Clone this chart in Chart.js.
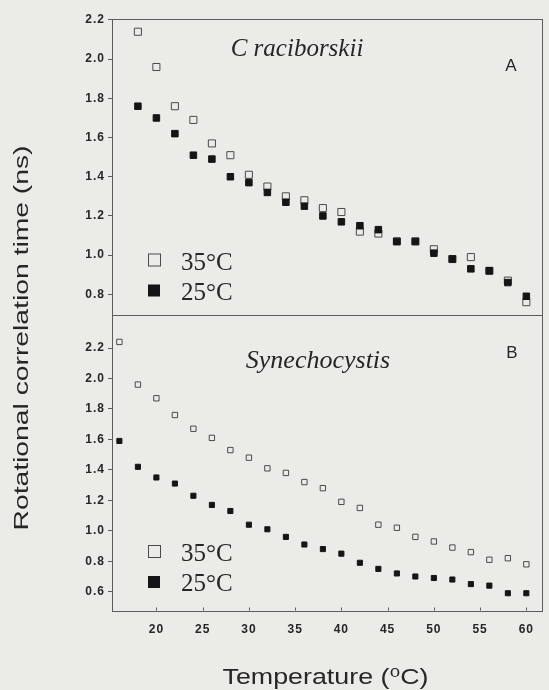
<!DOCTYPE html>
<html>
<head>
<meta charset="utf-8">
<title>Rotational correlation time</title>
<script src="https://cdn.jsdelivr.net/npm/chart.js@4.4.1/dist/chart.umd.min.js"></script>
<style>
  html, body { margin: 0; padding: 0; background: #ebebe8; }
  #wrap { width: 549px; height: 690px; }
</style>
</head>
<body>
<div id="wrap"><canvas id="chart" width="549" height="690"></canvas></div>
<script>
// panel A: C. raciborskii, panel B: Synechocystis
const tempsA = [18, 20, 22, 24, 26, 28, 30, 32, 34, 36, 38, 40, 42, 44, 46, 48, 50, 52, 54, 56, 58, 60];
const raciborskii35 = [2.14, 1.96, 1.76, 1.69, 1.57, 1.51, 1.41, 1.35, 1.30, 1.28, 1.24, 1.22, 1.12, 1.11, 1.07, 1.07, 1.03, 0.98, 0.99, 0.92, 0.87, 0.76];
const raciborskii25 = [1.76, 1.70, 1.62, 1.51, 1.49, 1.40, 1.37, 1.32, 1.27, 1.25, 1.20, 1.17, 1.15, 1.13, 1.07, 1.07, 1.01, 0.98, 0.93, 0.92, 0.86, 0.79];

const tempsB = [16, 18, 20, 22, 24, 26, 28, 30, 32, 34, 36, 38, 40, 42, 44, 46, 48, 50, 52, 54, 56, 58, 60];
const synecho35 = [2.24, 1.96, 1.87, 1.76, 1.67, 1.61, 1.53, 1.48, 1.41, 1.38, 1.32, 1.28, 1.19, 1.15, 1.04, 1.02, 0.96, 0.93, 0.89, 0.86, 0.81, 0.82, 0.78];
const synecho25 = [1.59, 1.42, 1.35, 1.31, 1.23, 1.17, 1.13, 1.04, 1.01, 0.96, 0.91, 0.88, 0.85, 0.79, 0.75, 0.72, 0.70, 0.69, 0.68, 0.65, 0.64, 0.59, 0.59];

const growthLabels = ['35\u00B0C', '25\u00B0C'];
const xTicks = [20, 25, 30, 35, 40, 45, 50, 55, 60];
const yTicksA = [0.8, 1.0, 1.2, 1.4, 1.6, 1.8, 2.0, 2.2];
const yTicksB = [0.6, 0.8, 1.0, 1.2, 1.4, 1.6, 1.8, 2.0, 2.2];

const INK = '#262626';
const FRAME = '#5c5c5c';
const OPEN_EDGE = '#4a4a4a';
const FILLED = '#151515';

function pairs(xs, ys) {
  return xs.map((x, i) => ({ x: x, y: ys[i] }));
}

function series(label, xs, ys, axis, filled, radius) {
  return {
    label: label,
    data: pairs(xs, ys),
    yAxisID: axis,
    pointStyle: 'rect',
    pointRadius: radius,
    pointHoverRadius: radius,
    borderWidth: 1,
    borderColor: filled ? FILLED : OPEN_EDGE,
    backgroundColor: filled ? FILLED : 'rgba(0,0,0,0)',
    order: filled ? 0 : 1,
    showLine: false
  };
}

const tickFont = { family: '"Liberation Sans", Arial, sans-serif', size: 12, weight: 'bold' };

function yScale(min, max, ticks) {
  return {
    type: 'linear',
    position: 'left',
    stack: 'panels',
    stackWeight: 1,
    min: min,
    max: max,
    afterBuildTicks: s => { s.ticks = ticks.map(v => ({ value: v })); },
    afterFit: s => { s.width = 112; },
    grid: { drawOnChartArea: false, drawTicks: true, tickLength: 4, color: FRAME },
    border: { display: false },
    ticks: { padding: 3, color: INK, font: tickFont, callback: v => v.toFixed(1) }
  };
}

// frames, panel names, legends and axis titles
const panelDecor = {
  id: 'panelDecor',
  beforeDraw(chart) {
    chart.ctx.letterSpacing = '1px';
  },
  afterDraw(chart) {
    const ctx = chart.ctx;
    const area = chart.chartArea;
    const yA = chart.scales.yA;
    const yB = chart.scales.yB;
    const xs = chart.scales.x;
    const px = v => Math.round(v) + 0.5;

    ctx.save();
    ctx.letterSpacing = '0px';
    ctx.strokeStyle = FRAME;
    ctx.lineWidth = 1;
    [yA, yB].forEach(s => {
      ctx.strokeRect(px(area.left), px(s.top), Math.round(area.right - area.left) - 1, Math.round(s.bottom - s.top));
    });
    // small inward ticks on the temperature axis
    ctx.beginPath();
    xTicks.forEach(v => {
      const x = px(xs.getPixelForValue(v));
      ctx.moveTo(x, px(yB.bottom));
      ctx.lineTo(x, px(yB.bottom) - 3);
    });
    ctx.stroke();

    ctx.fillStyle = INK;
    ctx.textAlign = 'center';
    ctx.textBaseline = 'alphabetic';
    ctx.font = 'italic 25px "Liberation Serif", "Times New Roman", serif';
    ctx.fillText('C raciborskii', 297, yA.top + 37);
    ctx.font = 'italic 26px "Liberation Serif", "Times New Roman", serif';
    ctx.fillText('Synechocystis', 318, yB.top + 53);
    ctx.font = '17px "Liberation Sans", Arial, sans-serif';
    ctx.fillText('A', 511, yA.top + 52);
    ctx.fillText('B', 512, yB.top + 43);

    // legends inside each panel
    const legends = [
      { scale: yA, offsets: [-54, -24], sets: [0, 1] },
      { scale: yB, offsets: [-58, -28], sets: [2, 3] }
    ];
    legends.forEach(lg => {
      lg.sets.forEach((di, k) => {
        const ds = chart.data.datasets[di];
        const cy = lg.scale.bottom + lg.offsets[k];
        if (ds.backgroundColor === FILLED) {
          ctx.fillStyle = FILLED;
          ctx.fillRect(148, cy - 6, 12, 12);
        } else {
          ctx.strokeStyle = OPEN_EDGE;
          ctx.strokeRect(148.5, cy - 6.5, 12, 12);
        }
        ctx.fillStyle = INK;
        ctx.textAlign = 'left';
        ctx.font = '25px "Liberation Serif", "Times New Roman", serif';
        ctx.fillText(ds.label, 181, cy + 9);
      });
    });

    // axis titles, drawn wide like the original lettering
    ctx.font = '21px "Liberation Sans", Arial, sans-serif';
    const yTitle = 'Rotational correlation time (ns)';
    const yw = ctx.measureText(yTitle).width;
    ctx.save();
    ctx.translate(28, 338);
    ctx.rotate(-Math.PI / 2);
    ctx.scale(385 / yw, 1);
    ctx.textAlign = 'center';
    ctx.fillText(yTitle, 0, 0);
    ctx.restore();

    ctx.font = '22px "Liberation Sans", "DejaVu Sans", Arial, sans-serif';
    const xTitle = 'Temperature (\u2070C)';
    const xw = ctx.measureText(xTitle).width;
    ctx.save();
    ctx.translate((area.left + area.right) / 2 - 2, 684);
    ctx.scale(206 / xw, 1);
    ctx.textAlign = 'center';
    ctx.fillText(xTitle, 0, 0);
    ctx.restore();

    ctx.restore();
  }
};

new Chart(document.getElementById('chart').getContext('2d'), {
  type: 'scatter',
  data: {
    datasets: [
      series(growthLabels[0], tempsA, raciborskii35, 'yA', false, 5),
      series(growthLabels[1], tempsA, raciborskii25, 'yA', true, 4.6),
      series(growthLabels[0], tempsB, synecho35, 'yB', false, 3.8),
      series(growthLabels[1], tempsB, synecho25, 'yB', true, 3.6)
    ]
  },
  options: {
    responsive: false,
    devicePixelRatio: 1,
    animation: false,
    layout: { padding: { top: 19, right: 2, left: 0, bottom: 0 } },
    plugins: {
      legend: { display: false },
      tooltip: { enabled: false }
    },
    scales: {
      x: {
        type: 'linear',
        min: 15.2,
        max: 61.8,
        afterBuildTicks: s => { s.ticks = xTicks.map(v => ({ value: v })); },
        afterFit: s => { s.height = 80; },
        grid: { display: false, drawTicks: false },
        border: { display: false },
        ticks: { padding: 12, color: INK, font: tickFont }
      },
      // the later stacked scale is laid out on top
      yB: yScale(0.48, 2.42, yTicksB),
      yA: yScale(0.697, 2.205, yTicksA)
    }
  },
  plugins: [panelDecor]
});
</script>
</body>
</html>
